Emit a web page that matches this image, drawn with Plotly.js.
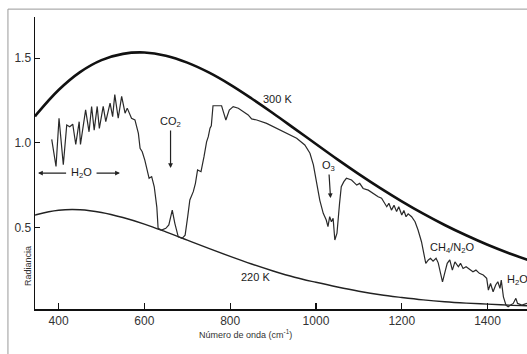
<!DOCTYPE html>
<html>
<head>
<meta charset="utf-8">
<script src="https://cdn.plot.ly/plotly-3.0.1.min.js"></script>
<style>html,body{margin:0;padding:0;background:#fff;}#chart{width:527px;height:354px;}</style>
</head>
<body>
<div id="chart"></div>
<script>
// Blackbody reference curves (wavenumber cm^-1, radiance)
const planckNu = [345,350,400,450,500,550,600,650,700,750,800,850,900,950,1000,1050,1100,1150,1200,1250,1300,1350,1400,1450,1500];
const rad300K = [1.156,1.172,1.312,1.418,1.489,1.526,1.534,1.515,1.474,1.416,1.344,1.262,1.175,1.084,0.993,0.902,0.815,0.732,0.654,0.581,0.514,0.453,0.397,0.347,0.302];
const rad220K = [0.572,0.576,0.601,0.604,0.588,0.558,0.519,0.473,0.424,0.375,0.328,0.283,0.242,0.205,0.175,0.147,0.122,0.101,0.085,0.071,0.060,0.052,0.046,0.040,0.036];

// Measured spectrum
const specNu = [384,394,401,411,419,426,433,440,448,451,463,471,477,483,490,495,504,510,520,526,531,539,547,555,560,570,578,586,590,595,601,608,611,617,623,629,632,640,650,657,665,671,679,688,695,701,706,714,719,724,732,739,745,749,753,756,760,771,780,784,790,798,807,819,830,842,850,862,885,908,932,955,974,986,994,1001,1009,1017,1024,1028,1032,1036,1040,1044,1049,1055,1059,1065,1071,1083,1095,1102,1110,1122,1133,1145,1153,1161,1165,1170,1176,1182,1188,1193,1200,1205,1210,1215,1223,1231,1238,1246,1250,1256,1262,1267,1273,1280,1285,1291,1295,1300,1306,1312,1318,1324,1332,1337,1343,1350,1359,1366,1373,1381,1390,1398,1402,1407,1413,1419,1424,1429,1432,1437,1443,1448,1454,1460,1466,1470,1480,1492];
const specRad = [1.02,0.86,1.145,0.87,1.105,1.095,1.11,0.99,1.125,0.99,1.195,1.065,1.215,1.075,1.215,1.085,1.215,1.125,1.235,1.155,1.285,1.145,1.275,1.175,1.205,1.145,1.135,1.056,0.967,0.947,0.898,0.82,0.79,0.80,0.74,0.62,0.494,0.484,0.494,0.514,0.602,0.524,0.444,0.435,0.454,0.563,0.662,0.711,0.76,0.839,0.829,0.918,1.006,1.036,1.086,1.10,1.219,1.219,1.219,1.184,1.135,1.194,1.214,1.204,1.184,1.165,1.141,1.135,1.115,1.086,1.056,1.027,0.987,0.938,0.869,0.77,0.66,0.583,0.543,0.504,0.563,0.533,0.553,0.425,0.465,0.642,0.74,0.77,0.79,0.78,0.75,0.76,0.73,0.72,0.70,0.681,0.672,0.642,0.622,0.642,0.602,0.63,0.593,0.622,0.573,0.60,0.563,0.58,0.563,0.533,0.484,0.415,0.366,0.287,0.307,0.317,0.30,0.317,0.29,0.228,0.178,0.228,0.287,0.307,0.247,0.296,0.267,0.287,0.257,0.267,0.247,0.237,0.247,0.228,0.218,0.198,0.129,0.168,0.119,0.159,0.178,0.139,0.188,0.089,0.04,0.03,0.04,0.05,0.08,0.05,0.04,0.05];

const xTicks = [400,600,800,1000,1200,1400];
const yTicks = [0.5,1.0,1.5];
const yTickText = ['0.5','1.0','1.5'];

const font = 'Liberation Sans, Arial, sans-serif';

const traces = [
  {x: planckNu, y: rad300K, mode:'lines', line:{color:'#111', width:2.6, shape:'spline'}, hoverinfo:'skip'},
  {x: planckNu, y: rad220K, mode:'lines', line:{color:'#222', width:1.4, shape:'spline'}, hoverinfo:'skip'},
  {x: specNu, y: specRad, mode:'lines', line:{color:'#2a2a2a', width:1.2}, hoverinfo:'skip'}
];

const txt = {family: font, size: 11, color:'#1a1a1a'};
const layout = {
  width:527, height:354,
  margin:{l:35, r:0, t:17, b:45, pad:0},
  paper_bgcolor:'#fff', plot_bgcolor:'#fff',
  showlegend:false,
  font:{family: font, size: 11, color:'#333'},
  xaxis:{range:[345,1492], tickvals:xTicks, ticks:'inside', ticklen:6, tickwidth:1.2, tickcolor:'#111',
         showline:true, linecolor:'#111', linewidth:1.5, showgrid:false, zeroline:false,
         tickfont:{family:font, size:12, color:'#333'}},
  yaxis:{range:[0.017,1.744], tickvals:yTicks, ticktext:yTickText, ticks:'inside', ticklen:5, tickwidth:1.2, tickcolor:'#111',
         showline:true, linecolor:'#111', linewidth:1.5, showgrid:false, zeroline:false,
         tickfont:{family:font, size:12, color:'#333'}},
  shapes:[
    {type:'rect', xref:'paper', yref:'paper', x0:-0.055, x1:1.02, y0:-0.2, y1:1.027, line:{color:'#999', width:1}, layer:'below'}
  ],
  annotations:[
    {x:910, y:1.259, text:'300 K', showarrow:false, font:txt},
    {x:860, y:0.206, text:'220 K', showarrow:false, font:txt},
    {x:661, y:0.851, text:'CO<sub>2</sub>', showarrow:true, ax:0, ay:-46, arrowhead:2, arrowsize:0.8, arrowwidth:1.2, arrowcolor:'#222', font:txt},
    {x:1034, y:0.673, text:'O<sub>3</sub>', showarrow:true, ax:-2, ay:-32, arrowhead:2, arrowsize:0.8, arrowwidth:1.2, arrowcolor:'#222', font:txt},
    {x:453, y:0.821, text:'H<sub>2</sub>O', showarrow:false, font:txt},
    {x:352, y:0.821, ax:421, ay:0.821, axref:'x', ayref:'y', text:'', showarrow:true, arrowhead:2, arrowsize:0.8, arrowwidth:1.2, arrowcolor:'#222'},
    {x:543, y:0.821, ax:485, ay:0.821, axref:'x', ayref:'y', text:'', showarrow:true, arrowhead:2, arrowsize:0.8, arrowwidth:1.2, arrowcolor:'#222'},
    {x:1317, y:0.378, text:'CH<sub>4</sub>/N<sub>2</sub>O', showarrow:false, font:txt},
    {x:1440, y:0.188, text:'H<sub>2</sub>O', xanchor:'left', showarrow:false, font:txt},
    {xref:'paper', yref:'paper', x:(21-35)/492, y:1-(288-17)/292, text:'Radiancia', textangle:-90, showarrow:false, font:{family:font, size:9, color:'#333'}},
    {xref:'paper', yref:'paper', x:(245-35)/492, y:1-(342-17)/292, text:'Número de onda (cm<sup>-1</sup>)', showarrow:false, font:{family:font, size:9, color:'#333'}}
  ]
};

Plotly.newPlot('chart', traces, layout, {displayModeBar:false, staticPlot:true});
</script>
</body>
</html>
